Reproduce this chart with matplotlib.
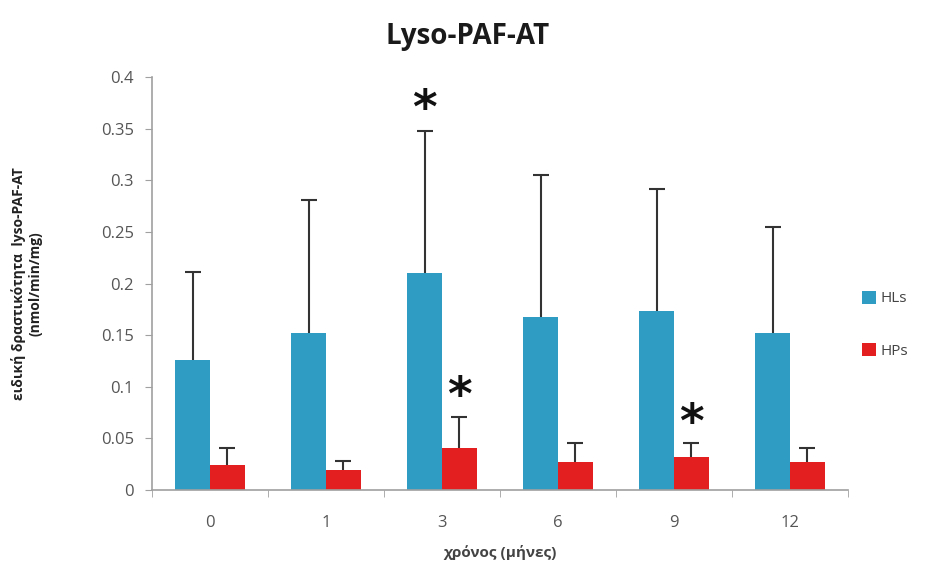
import matplotlib
matplotlib.use("Agg")
import matplotlib.pyplot as plt
import numpy as np

plt.rcParams['font.family'] = ['Open Sans', 'DejaVu Sans']

# values
months = ['0', '1', '3', '6', '9', '12']
hls = [0.126, 0.152, 0.210, 0.168, 0.173, 0.152]
hls_top = [0.211, 0.281, 0.348, 0.305, 0.292, 0.255]
hps = [0.024, 0.019, 0.041, 0.027, 0.032, 0.027]
hps_top = [0.041, 0.028, 0.071, 0.046, 0.046, 0.041]
yticks = [0, 0.05, 0.1, 0.15, 0.2, 0.25, 0.3, 0.35, 0.4]
ytick_labels = ['0', '0.05', '0.1', '0.15', '0.2', '0.25', '0.3', '0.35', '0.4']
# significance marks: (category index, series, y)
stars = [(2, 'HLs', 0.368), (2, 'HPs', 0.090), (4, 'HPs', 0.063)]

hls = np.array(hls)
hps = np.array(hps)
hls_err = np.array(hls_top) - hls
hps_err = np.array(hps_top) - hps

blue = '#2f9cc4'
red = '#e41f1f'
grey = '#a0a0a0'

fig = plt.figure(figsize=(9.35, 5.68), dpi=100)
ax = fig.add_axes([0.1626, 0.1373, 0.7444, 0.7271])

x = np.arange(len(months))
w = 0.30
ax.bar(x - w/2, hls, w, color=blue, label='HLs')
ax.bar(x + w/2, hps, w, color=red, label='HPs')

# upper-only error bars
for xs, vals, err in [(x - w/2, hls, hls_err), (x + w/2, hps, hps_err)]:
    line, caps, bars = ax.errorbar(xs, vals, yerr=[np.zeros(len(xs)), err],
                                   fmt='none', ecolor='#333333', elinewidth=1.5,
                                   capsize=6, capthick=1.5)
    caps[0].set_visible(False)

for i, s, y in stars:
    xx = x[i] - w/2 if s == 'HLs' else x[i] + w/2
    ax.text(xx, y, '*', ha='center', va='center', fontsize=34,
            fontweight='bold', color='#111111', family='DejaVu Sans')

ax.set_xlim(-0.5, len(months) - 0.5)
ax.set_ylim(0, 0.4)
ax.set_yticks(yticks)
ax.set_yticklabels(ytick_labels)
ax.set_xticks(x)
ax.set_xticklabels(months)
ax.set_xticks(np.arange(-0.5, len(months)), minor=True)
ax.tick_params(axis='x', which='major', length=0, pad=18)
ax.tick_params(axis='x', which='minor', length=5, color=grey, direction='out')
ax.tick_params(axis='y', length=5, color=grey, direction='out', pad=8)
ax.tick_params(labelsize=12, labelcolor='#555555')

for side in ['top', 'right']:
    ax.spines[side].set_visible(False)
for side in ['left', 'bottom']:
    ax.spines[side].set_color(grey)
    ax.spines[side].set_linewidth(1.2)

fig.text(0.5, 0.935, 'Lyso-PAF-AT', ha='center', va='center',
         fontsize=20, fontweight='bold', color='#1a1a1a')
ax.set_ylabel('ειδική δραστικότητα  lyso-PAF-AT\n(nmol/min/mg)',
              fontsize=10, fontweight='bold', color='#222222', labelpad=42)
ax.set_xlabel('χρόνος (μήνες)', fontsize=11, fontweight='bold',
              color='#444444', labelpad=10)

ax.legend(loc='center left', bbox_to_anchor=(1.0, 0.4), frameon=False,
          fontsize=11, handlelength=0.9, handleheight=0.9,
          labelspacing=2.4, handletextpad=0.3, labelcolor='#444444')

fig.savefig('out.png', dpi=100)
